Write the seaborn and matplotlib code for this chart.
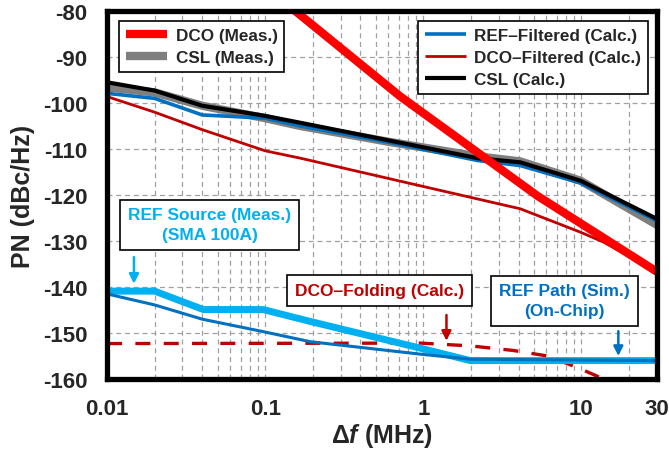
import matplotlib
matplotlib.use('Agg')
import matplotlib.pyplot as plt
import seaborn as sns
import pandas as pd
from matplotlib.ticker import FixedLocator, NullFormatter, LogLocator

sns.set_style('white')
plt.rcParams['font.family'] = ['Liberation Sans', 'DejaVu Sans']
plt.rcParams['font.weight'] = 'bold'
plt.rcParams['mathtext.fontset'] = 'custom'
plt.rcParams['mathtext.it'] = 'Liberation Sans:italic:bold'
plt.rcParams['mathtext.rm'] = 'Liberation Sans:bold'

# ---------------- data (offset frequency in MHz, phase noise in dBc/Hz) -------------
dco_meas_f = [0.14, 0.155, 0.71, 1.98, 5.27, 30]
dco_meas_pn = [-78.8, -80.0, -98.5, -109.6, -120.2, -136.7]

csl_meas_f = [0.01, 0.02, 0.04, 0.1, 0.167, 0.618, 2.2, 4.1, 9.87, 30]
csl_meas_pn = [-96.6, -97.7, -100.6, -103.3, -105.0, -108.5, -111.6, -112.7, -116.9, -126.5]

csl_calc_f = [0.01, 0.02, 0.04, 0.1, 0.167, 0.618, 2.2, 4.1, 9.87, 30]
csl_calc_pn = [-95.5, -97.3, -100.6, -102.8, -104.3, -108.2, -112.0, -112.9, -116.9, -125.2]

ref_filt_f = [0.01, 0.02, 0.04, 0.1, 0.167, 0.618, 2.2, 4.1, 9.87, 30]
ref_filt_pn = [-97.9, -99.0, -102.6, -103.3, -105.0, -108.6, -112.5, -113.6, -117.4, -125.6]

dco_filt_f = [0.01, 0.02, 0.04, 0.1, 0.167, 1.98, 4.1, 9.87, 13.7, 30]
dco_filt_pn = [-98.6, -102.0, -105.8, -110.4, -112.0, -120.5, -123.0, -128.1, -130.2, -136.7]

ref_src_f = [0.01, 0.02, 0.0406, 0.097, 0.193, 0.957, 1.98, 30]
ref_src_pn = [-140.9, -140.9, -144.9, -144.9, -147.5, -153.3, -156.0, -156.0]

ref_path_f = [0.01, 0.02, 0.04, 0.097, 0.193, 0.957, 1.98, 30]
ref_path_pn = [-141.5, -143.9, -147.0, -149.7, -151.9, -154.6, -155.7, -156.0]

dco_fold_f = [0.01, 0.96, 1.98, 3.7, 6.1, 9.4, 13.8, 15.0]
dco_fold_pn = [-152.3, -152.2, -152.8, -153.8, -155.0, -157.5, -160.0, -160.8]

x_ticks = [0.01, 0.1, 1, 10, 30]
x_tick_labels = ['0.01', '0.1', '1', '10', '30']
y_ticks = [-160, -150, -140, -130, -120, -110, -100, -90, -80]

legend1_labels = ['DCO (Meas.)', 'CSL (Meas.)']
legend2_labels = ['REF\u2013Filtered (Calc.)', 'DCO\u2013Filtered (Calc.)', 'CSL (Calc.)']

C_RED = '#FF0000'
C_GREY = '#7F7F7F'
C_BLUE = '#0070C0'
C_DRED = '#C00000'
C_LBLUE = '#00B0F0'

fig = plt.figure(figsize=(6.69, 4.56), dpi=100)
ax = fig.add_axes([0.160, 0.1667, 0.822, 0.807])


def draw(f, pn, color, lw, ls='-', z=2):
    df = pd.DataFrame({'f': f, 'pn': pn})
    sns.lineplot(data=df, x='f', y='pn', ax=ax, color=color, linewidth=lw,
                 linestyle=ls, sort=False, estimator=None, zorder=z)
    line = ax.lines[-1]
    line.set_solid_capstyle('butt')
    line.set_solid_joinstyle('round')
    return line


h_grey = draw(csl_meas_f, csl_meas_pn, C_GREY, 6.0, z=2)
h_blue = draw(ref_filt_f, ref_filt_pn, C_BLUE, 2.6, z=3)
h_black = draw(csl_calc_f, csl_calc_pn, 'black', 3.0, z=4)
h_dred = draw(dco_filt_f, dco_filt_pn, C_DRED, 2.0, z=3)
h_red = draw(dco_meas_f, dco_meas_pn, C_RED, 6.0, z=5)
h_fold = draw(dco_fold_f, dco_fold_pn, C_DRED, 2.4, ls=(0, (4.5, 4)), z=3)
h_fold.set_dash_capstyle('butt')
h_src = draw(ref_src_f, ref_src_pn, C_LBLUE, 5.0, z=3)
h_path = draw(ref_path_f, ref_path_pn, C_BLUE, 2.2, z=4)

ax.set_xscale('log')
ax.set_xlim(0.01, 30)
ax.set_ylim(-160, -80)

ax.xaxis.set_major_locator(FixedLocator(x_ticks))
ax.set_xticklabels(x_tick_labels)
ax.xaxis.set_minor_locator(LogLocator(base=10, subs=range(2, 10)))
ax.xaxis.set_minor_formatter(NullFormatter())
ax.set_yticks(y_ticks)
ax.set_yticklabels([str(v) for v in y_ticks])

ax.tick_params(which='both', length=0)
ax.tick_params(axis='x', labelsize=16, pad=14)
ax.tick_params(axis='y', labelsize=16, pad=14)
for lab in ax.get_xticklabels() + ax.get_yticklabels():
    lab.set_fontweight('bold')

ax.set_axisbelow(True)
grid_kw = dict(color='#A0A0A0', linewidth=0.9, linestyle=(0, (4, 3)))
ax.grid(which='both', axis='x', **grid_kw)
ax.grid(which='major', axis='y', **grid_kw)

for s in ax.spines.values():
    s.set_visible(True)
    s.set_linewidth(3.8)
    s.set_color('black')
    s.set_zorder(10)

ax.set_xlabel('\u0394$\\it{f}$ (MHz)', fontsize=18, fontweight='bold', labelpad=1)
ax.set_ylabel('PN (dBc/Hz)', fontsize=18, fontweight='bold', labelpad=6)

leg_kw = dict(fontsize=12.3, frameon=True, fancybox=False, framealpha=1,
              edgecolor='black', borderpad=0.4, labelspacing=0.42,
              handlelength=2.4, handletextpad=0.5, borderaxespad=0)
leg1 = ax.legend([h_red, h_grey], legend1_labels, loc='upper left',
                 bbox_to_anchor=(0.022, 0.973), **leg_kw)
leg1.get_frame().set_linewidth(1.2)
for t in leg1.get_texts():
    t.set_fontweight('bold')
ax.add_artist(leg1)
leg1.set_zorder(20)
leg2 = ax.legend([h_blue, h_dred, h_black], legend2_labels, loc='upper right',
                 bbox_to_anchor=(0.984, 0.973), **leg_kw)
leg2.get_frame().set_linewidth(1.2)
for t in leg2.get_texts():
    t.set_fontweight('bold')
leg2.set_zorder(20)

box_kw = dict(boxstyle='square,pad=0.45', facecolor='white', edgecolor='black', linewidth=1.2)
ax.text(0.0446, -126.5, 'REF Source (Meas.)\n(SMA 100A)', color=C_LBLUE, fontsize=12.5,
        fontweight='bold', ha='center', va='center', linespacing=1.4, bbox=box_kw, zorder=20)
ax.text(0.531, -140.8, 'DCO\u2013Folding (Calc.)', color=C_DRED, fontsize=12.5,
        fontweight='bold', ha='center', va='center', bbox=box_kw, zorder=20)
ax.text(7.8, -143.0, 'REF Path (Sim.)\n(On-Chip)', color=C_BLUE, fontsize=12.5,
        fontweight='bold', ha='center', va='center', linespacing=1.4, bbox=box_kw, zorder=20)

arrow_specs = [
    (0.0148, -133.5, -139.3, C_LBLUE),
    (1.40, -146.1, -151.7, C_DRED),
    (17.1, -149.6, -155.0, C_BLUE),
]
for fx, y0, y1, col in arrow_specs:
    ax.annotate('', xy=(fx, y1), xytext=(fx, y0),
                arrowprops=dict(arrowstyle='-|>', color=col, lw=1.8, mutation_scale=14,
                                shrinkA=0, shrinkB=0), zorder=20)

fig.savefig('out.png', dpi=100)
